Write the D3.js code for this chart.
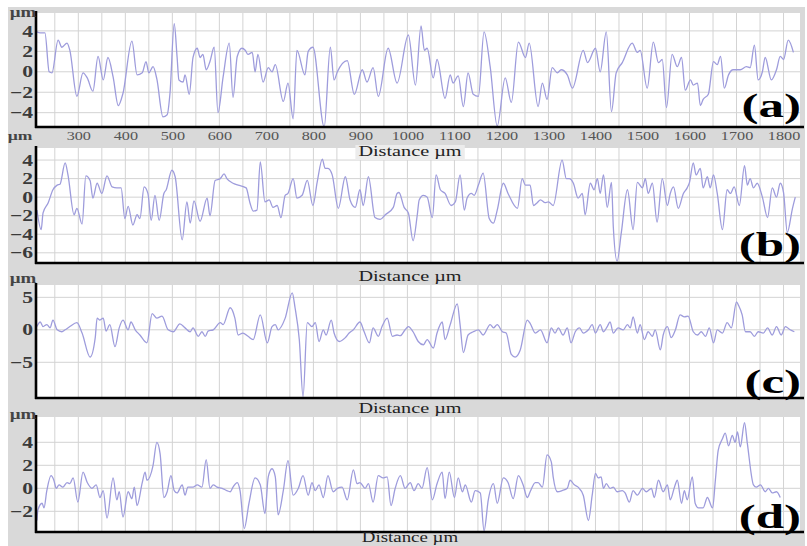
<!DOCTYPE html>
<html>
<head>
<meta charset="utf-8">
<script src="https://cdn.jsdelivr.net/npm/d3@7"></script>
<style>
  body { margin: 0; background: #fff; }
  svg { display: block; }
</style>
</head>
<body>
<svg id="chart" width="807" height="546"></svg>
<script>
// Surface roughness profiles: distance along the scan (µm) vs. height (µm)

const distanceTicks = [300, 400, 500, 600, 700, 800, 900, 1000, 1100, 1200, 1300, 1400, 1500, 1600, 1700, 1800];
const distanceGrid = d3.range(250, 1801, 50);

const heightTicksA = [4, 2, 0, -2, -4];
const heightTicksB = [4, 2, 0, -2, -4, -6];
const heightTicksC = [5, 0, -5];
const heightTicksD = [4, 2, 0, -2];

const panelLabels = ["(a)", "(b)", "(c)", "(d)"];

// [distance µm, height µm]
const profileA = [[212,3.9],[219,3.8],[229,3.8],[238,0],[244,-0.1],[257,3.1],[265,2.4],[276,2.8],[282,2.1],[297,-2.4],[310,-0.1],[319,-0.6],[331,-1.9],[342,1.5],[353,-0.8],[363,1.4],[374,-0.5],[385,-3.3],[395,-2.1],[414,3.0],[425,-0.3],[436,-0.1],[444,1.0],[450,-0.1],[459,0.5],[467,-0.7],[480,-4.4],[489,-4.2],[495,-2.1],[504,4.7],[510,1.5],[514,-0.8],[523,-1.0],[527,-0.3],[536,-2.2],[544,1.4],[553,2.3],[559,1.4],[565,1.7],[572,0.2],[580,1.0],[589,2.4],[597,-4.0],[608,-0.5],[621,2.8],[629,-2.5],[638,1.5],[648,2.3],[655,2.1],[661,1.7],[670,1.9],[676,0],[682,1.7],[693,-1.0],[704,0.4],[712,0],[719,0.7],[736,-2.9],[746,-1.1],[757,-4.6],[765,2.1],[782,-0.3],[789,2.0],[799,2.4],[823,-5.4],[836,2.4],[844,-0.8],[851,0],[872,1.1],[887,-2.2],[904,0.2],[914,-1.0],[927,0.4],[938,-2.4],[959,2.3],[978,-1.1],[1002,3.6],[1017,-1.3],[1029,4.5],[1036,2.1],[1042,2.3],[1055,-0.6],[1063,1.2],[1080,-2.6],[1091,-0.3],[1097,-1.1],[1108,-0.4],[1119,-3.4],[1129,-0.1],[1140,-2.2],[1151,-2.4],[1163,3.9],[1176,0.5],[1191,-5.3],[1208,-0.6],[1221,-3.0],[1236,2.9],[1251,1.4],[1259,2.8],[1278,-3.4],[1287,-1.1],[1297,-2.7],[1308,0.4],[1319,-0.1],[1327,0.2],[1340,-0.3],[1351,-1.6],[1374,2.1],[1383,0.9],[1400,2.3],[1410,0],[1423,3.9],[1434,-3.9],[1444,-0.1],[1457,0.9],[1478,2.8],[1489,1.9],[1495,2.1],[1510,-1.6],[1523,2.9],[1534,0.9],[1542,1.2],[1551,-3.5],[1563,1.7],[1574,0.5],[1583,1.4],[1591,-1.8],[1602,-0.8],[1608,-1.3],[1617,-1.1],[1623,-3.3],[1629,-2.7],[1640,-2.2],[1651,1.0],[1659,0.7],[1666,1.5],[1674,-1.6],[1683,-0.3],[1693,0.2],[1708,0.2],[1721,0.5],[1729,0.4],[1738,2.6],[1746,-0.8],[1755,0],[1761,1.4],[1774,-0.8],[1785,0.2],[1793,1.5],[1800,1.2],[1810,3.1],[1821,1.9]];

const profileB = [[212,-1.4],[221,-3.5],[225,-1.7],[236,-0.6],[246,0.8],[255,1.3],[261,1.4],[272,3.7],[278,2.4],[291,-1.9],[297,-1.2],[308,-2.9],[316,2.3],[325,1.8],[331,-0.1],[340,1.5],[350,0.4],[361,2.3],[372,1.1],[382,1.0],[391,1.0],[399,-2.3],[406,-1.0],[416,-3.0],[425,-1.9],[431,-2.3],[440,1.1],[448,0.4],[455,-2.5],[463,0.2],[472,-2.5],[482,0.4],[487,0.8],[499,2.9],[506,2.2],[521,-4.6],[531,-0.5],[538,-2.8],[546,-0.4],[559,-2.6],[574,-0.1],[580,-2.0],[591,1.8],[602,2.0],[610,2.5],[616,2.0],[629,1.5],[640,1.3],[657,1.0],[665,-0.6],[672,-1.5],[680,-1.4],[687,3.8],[697,-0.5],[706,-0.3],[714,-1.1],[723,-0.9],[731,-2.2],[740,0.2],[746,0.4],[757,2.0],[765,-0.1],[776,0.2],[787,1.8],[799,-0.9],[808,1.6],[819,4.1],[825,3.1],[831,3.1],[840,2.4],[853,-1.2],[868,2.2],[878,-0.3],[889,-1.1],[899,0.8],[906,-0.9],[917,2.2],[931,-2.2],[942,-2.4],[953,-1.9],[970,-1.1],[978,0.4],[982,0.5],[993,-1.1],[1002,-1.7],[1012,-4.7],[1021,-1.9],[1025,-0.3],[1034,0.2],[1042,0],[1053,-2.2],[1061,2.4],[1070,0.8],[1080,0.4],[1093,-0.9],[1102,-0.5],[1112,2.4],[1121,-1.4],[1127,-0.1],[1136,0.4],[1142,0.2],[1151,1.3],[1161,2.6],[1174,-2.3],[1183,-2.8],[1191,-1.4],[1204,1.5],[1214,0.4],[1234,-1.2],[1244,2.0],[1251,1.3],[1261,1.3],[1268,-0.9],[1276,-0.6],[1283,-0.3],[1293,-0.6],[1300,-0.5],[1310,-0.9],[1329,4.0],[1338,2.0],[1344,2.0],[1353,1.5],[1363,-0.1],[1372,0.4],[1378,-1.9],[1389,1.5],[1397,0.8],[1404,2.0],[1410,0.4],[1417,2.4],[1425,-1.1],[1434,1.6],[1438,-3.3],[1446,-6.9],[1455,-3.8],[1468,0.8],[1480,-3.5],[1489,1.6],[1500,1.0],[1506,2.0],[1512,0.4],[1521,1.5],[1531,-2.7],[1542,2.0],[1553,-0.9],[1559,0.4],[1566,1.1],[1576,-1.2],[1587,0.4],[1595,1.0],[1600,1.6],[1608,3.7],[1614,2.4],[1623,3.1],[1629,1.0],[1638,2.2],[1644,1.0],[1651,2.4],[1659,0.4],[1670,-3.5],[1680,0.8],[1687,0.4],[1695,1.1],[1706,-0.9],[1717,3.4],[1723,1.3],[1729,2.0],[1736,1.0],[1744,1.5],[1755,0],[1766,-2.2],[1776,1.0],[1785,0],[1793,1.5],[1800,0.5],[1808,-3.8],[1819,-1.2],[1825,0]];

const profileC = [[212,0.5],[219,1.2],[225,0.5],[233,0.8],[240,0.3],[246,1.5],[255,0],[265,-0.3],[272,0],[282,0.5],[297,1.1],[308,-0.5],[325,-4.2],[336,-1.2],[340,1.8],[346,1.5],[353,1.8],[359,-0.2],[367,0.8],[378,-2.6],[387,0.3],[395,1.5],[406,0],[412,1.2],[421,0],[431,-0.8],[446,-2.0],[457,2.5],[467,1.8],[478,2.1],[491,0],[502,-0.3],[516,0.9],[527,0.3],[538,-0.3],[544,0.3],[555,-1.0],[563,-0.3],[570,-1.0],[576,-0.2],[587,0],[602,1.1],[608,0.8],[623,3.4],[633,1.8],[640,-0.8],[650,-0.5],[661,-1.0],[672,-1.5],[687,2.3],[702,-2.0],[712,0.5],[719,0.8],[725,0],[740,1.8],[755,5.7],[761,3.4],[770,-1.5],[778,-10.3],[787,1.1],[797,0.5],[804,1.1],[812,-1.8],[821,0],[827,-0.8],[838,1.5],[844,-0.5],[855,-1.8],[868,-1.2],[876,-0.5],[885,0],[899,1.2],[908,-0.3],[919,-2.0],[927,0.3],[938,-1.0],[946,0.5],[957,1.8],[968,-1.0],[978,-0.8],[985,-0.9],[995,0],[1002,0.5],[1012,-0.3],[1023,-1.8],[1034,-2.3],[1042,-1.5],[1055,-2.8],[1063,-0.5],[1074,1.2],[1080,-1.5],[1091,0.8],[1106,4.0],[1112,0.8],[1119,-3.5],[1129,-0.8],[1140,-0.3],[1151,0],[1161,-0.8],[1176,0.8],[1183,0.3],[1191,0.8],[1202,-0.3],[1210,-0.5],[1221,-3.8],[1229,-4.2],[1240,-3.1],[1255,1.5],[1261,1.0],[1272,-0.5],[1283,0],[1297,-2.0],[1306,0.3],[1314,-0.5],[1321,0.3],[1331,-0.8],[1340,0.3],[1348,-2.0],[1357,-0.3],[1366,0.3],[1374,-0.5],[1385,0],[1393,0.8],[1400,-0.5],[1410,0.8],[1417,-0.3],[1425,0.5],[1431,1.2],[1438,-0.5],[1448,0.3],[1459,0],[1468,0.8],[1474,0.3],[1480,2.0],[1489,-0.5],[1495,0.8],[1504,-1.5],[1512,-0.3],[1521,-1.0],[1527,0],[1538,-3.1],[1544,-0.8],[1553,0.5],[1561,-1.2],[1570,0],[1580,2.3],[1589,2.0],[1597,2.1],[1608,-0.3],[1617,-0.8],[1625,-0.3],[1634,-1.0],[1642,0.3],[1651,-2.0],[1659,0],[1670,-0.5],[1680,1.1],[1689,0.3],[1700,4.3],[1704,3.8],[1712,2.3],[1719,-0.3],[1729,-0.3],[1738,-1.0],[1746,-0.3],[1757,-0.5],[1766,0.3],[1776,-0.8],[1785,0.5],[1795,-0.8],[1804,0.5],[1814,0],[1823,-0.3]];

const profileD = [[212,-2.8],[214,-1.9],[223,-1.3],[227,-1.7],[233,-0.2],[242,1.1],[248,0.7],[253,0],[259,0.3],[267,0.1],[276,0.5],[282,0.4],[289,0.9],[299,-1.2],[310,1.4],[319,0.5],[329,0],[338,0.3],[346,-0.8],[353,-0.2],[361,-2.6],[374,0.9],[382,-1.0],[387,-0.3],[395,-2.5],[406,-0.3],[414,-0.9],[419,0.1],[425,-1.5],[436,0.5],[442,1.4],[446,0.7],[459,2.0],[467,4.0],[474,3.0],[482,-0.8],[489,-0.3],[497,1.1],[504,-0.2],[510,-0.4],[521,0.3],[527,-0.6],[533,0.1],[544,0.1],[553,0.3],[563,0.1],[572,2.5],[580,0],[587,0.3],[595,0.1],[606,0],[616,-0.2],[623,-0.3],[629,0.1],[638,0.5],[644,-0.2],[653,-3.5],[663,-1.3],[676,0.9],[687,0.3],[697,-2.2],[704,1.0],[712,1.7],[719,1.0],[725,-2.3],[736,-0.2],[746,2.4],[757,-0.6],[768,0],[778,1.1],[789,-0.6],[797,0.5],[804,-0.2],[812,0.3],[821,-0.8],[831,1.1],[842,-0.3],[851,0],[861,0.1],[872,-1.0],[885,1.6],[893,0.4],[899,0.5],[910,0],[917,0.4],[927,-1.2],[938,1.1],[948,0.9],[957,1.0],[965,-1.5],[974,0],[985,1.1],[995,0],[1006,0.5],[1014,-0.2],[1023,0.4],[1031,0],[1042,1.8],[1053,-1.0],[1063,0.4],[1074,1.4],[1080,-0.9],[1089,1.4],[1100,-0.8],[1108,0.9],[1117,-0.3],[1123,0.3],[1136,-1.2],[1144,-0.2],[1155,-0.4],[1163,-3.7],[1172,-1.0],[1183,0.4],[1191,-1.3],[1204,0.9],[1214,0.5],[1225,-0.9],[1236,1.1],[1246,0.3],[1255,-0.8],[1261,-0.3],[1272,0.5],[1278,0.5],[1287,0.1],[1297,2.9],[1306,2.3],[1310,1.0],[1319,-0.3],[1329,-0.2],[1340,0],[1346,0.7],[1355,0.3],[1363,0.1],[1374,-0.6],[1385,-2.8],[1393,-0.6],[1400,1.3],[1406,0.9],[1412,1.0],[1417,0],[1423,0.4],[1431,0],[1438,0.1],[1446,-0.3],[1457,-0.2],[1463,-0.4],[1472,-1.2],[1480,-0.2],[1489,-0.6],[1500,0],[1508,-0.3],[1519,0],[1525,-0.8],[1534,0.7],[1544,-0.3],[1553,0.3],[1559,-1.0],[1568,0.1],[1574,0.7],[1583,-1.3],[1589,-0.2],[1595,-1.0],[1606,1.0],[1612,-1.3],[1619,-1.7],[1629,-1.7],[1638,-0.8],[1649,-1.7],[1655,0.7],[1661,3.3],[1670,4.3],[1676,4.8],[1683,3.7],[1691,4.6],[1697,4.0],[1702,4.9],[1708,3.6],[1717,5.7],[1723,3.9],[1736,0.3],[1742,0.1],[1751,0.3],[1761,-0.3],[1768,0],[1776,-0.4],[1785,-0.3],[1793,-0.8]];

// ---- layout ----
const plotLeft = 36, plotRight = 800;
const SERIF = "'Liberation Serif', 'Times New Roman', serif";
const STRETCH = 1.35;        // glyphs are drawn a little wider than tall
const LABEL_STRETCH = 1.5;

const panels = [
  { data: profileA, ticks: heightTicksA, domain: [-5.4, 5.75], top: 13,  bottom: 127, frameTop: 7,   frameBottom: 146,
    unitY: 17, distY: 156, distSize: 15, showDistanceTicks: true, label: panelLabels[0], labelY: 117 },
  { data: profileB, ticks: heightTicksB, domain: [-7.1, 5.3],  top: 148, bottom: 263, frameTop: 146, frameBottom: 286,
    unitY: null, distY: 281, distSize: 15, showDistanceTicks: false, label: panelLabels[1], labelY: 256 },
  { data: profileC, ticks: heightTicksC, domain: [-10.5, 6.9], top: 285, bottom: 398, frameTop: 283, frameBottom: 416,
    unitY: 283, distY: 413, distSize: 15, showDistanceTicks: false, label: panelLabels[2], labelY: 393 },
  { data: profileD, ticks: heightTicksD, domain: [-3.8, 6.2],  top: 417, bottom: 532, frameTop: 412, frameBottom: 546,
    unitY: 419, distY: 542, distSize: 14, showDistanceTicks: false, label: panelLabels[3], labelY: 528 }
];

const svg = d3.select("#chart");
const x = d3.scaleLinear().domain([210, 1835]).range([plotLeft, plotRight]);

function placed(sel, px, py, sx) {
  return sel.attr("transform", `translate(${px},${py}) scale(${sx || STRETCH},1)`);
}

// grey frames behind each panel
panels.forEach(p => {
  svg.append("rect")
    .attr("x", 8).attr("y", p.frameTop)
    .attr("width", 797).attr("height", p.frameBottom - p.frameTop)
    .attr("fill", "#d9d9d9");
});

panels.forEach((p, i) => {
  const y = d3.scaleLinear().domain(p.domain).range([p.bottom, p.top]);
  const g = svg.append("g");

  // white plotting area
  g.append("rect")
    .attr("x", plotLeft).attr("y", p.top)
    .attr("width", plotRight - plotLeft).attr("height", p.bottom - p.top)
    .attr("fill", "#fff");

  // grid
  g.append("g").selectAll("line").data(distanceGrid).join("line")
    .attr("x1", d => x(d)).attr("x2", d => x(d))
    .attr("y1", p.top).attr("y2", p.bottom)
    .attr("stroke", "#d3d3d3").attr("stroke-width", 1);
  g.append("g").selectAll("line").data(p.ticks).join("line")
    .attr("x1", plotLeft).attr("x2", plotRight)
    .attr("y1", d => y(d)).attr("y2", d => y(d))
    .attr("stroke", "#d3d3d3").attr("stroke-width", 1);

  // profile trace
  const clipId = "clip" + i;
  g.append("clipPath").attr("id", clipId).append("rect")
    .attr("x", plotLeft).attr("y", p.top - 1)
    .attr("width", plotRight - plotLeft).attr("height", p.bottom - p.top + 2);
  g.append("path")
    .datum(p.data)
    .attr("clip-path", `url(#${clipId})`)
    .attr("fill", "none")
    .attr("stroke", "#9e9cdc")
    .attr("stroke-width", 1.3)
    .attr("stroke-linejoin", "round")
    .attr("d", d3.line().x(d => x(d[0])).y(d => y(d[1])).curve(d3.curveMonotoneX));

  // height axis labels
  const yAxis = g.append("g")
    .attr("transform", `translate(${plotLeft},0)`)
    .call(d3.axisLeft(y).tickValues(p.ticks).tickSize(0).tickPadding(3).tickFormat(d3.format("d")));
  yAxis.select(".domain").remove();
  yAxis.selectAll("text")
    .attr("font-family", SERIF).attr("font-size", 16).attr("font-weight", "bold")
    .attr("fill", "#3a3a3a")
    .attr("transform", `scale(${STRETCH},1)`)
    .attr("x", -3 / STRETCH);

  // distance axis labels (first panel only)
  const xAxis = g.append("g")
    .attr("transform", `translate(0,${p.bottom})`)
    .call(d3.axisBottom(x).tickValues(p.showDistanceTicks ? distanceTicks : [])
      .tickSize(0).tickPadding(4).tickFormat(d3.format("d")));
  xAxis.select(".domain").remove();
  xAxis.selectAll("text")
    .attr("font-family", SERIF).attr("font-size", 12)
    .attr("fill", "#555")
    .attr("transform", `scale(${STRETCH},1)`);

  // black axis lines
  g.append("line")
    .attr("x1", plotLeft).attr("x2", plotLeft)
    .attr("y1", p.top - 2).attr("y2", p.bottom + 1)
    .attr("stroke", "#000").attr("stroke-width", 2.6);
  g.append("line")
    .attr("x1", plotLeft - 1).attr("x2", plotRight + 4)
    .attr("y1", p.bottom).attr("y2", p.bottom)
    .attr("stroke", "#000").attr("stroke-width", 2.6);
});

// text layer on top of everything
panels.forEach(p => {
  if (p.unitY !== null) {
    placed(svg.append("text"), 23, p.unitY)
      .attr("text-anchor", "middle")
      .attr("font-family", SERIF).attr("font-size", 14).attr("font-weight", "bold")
      .attr("fill", "#444").text("µm");
  }

  const dist = placed(svg.append("text"), 410, p.distY)
    .attr("text-anchor", "middle")
    .attr("font-family", SERIF).attr("font-size", p.distSize)
    .attr("fill", "#222").text("Distance µm");
  if (p.showDistanceTicks) {
    const bb = dist.node().getBBox();
    svg.insert("rect", () => dist.node())
      .attr("x", 410 + bb.x * STRETCH - 3).attr("y", p.distY - 11)
      .attr("width", bb.width * STRETCH + 6).attr("height", 15)
      .attr("fill", "#ececec");
  }

  placed(svg.append("text"), 801, p.labelY, LABEL_STRETCH)
    .attr("text-anchor", "end")
    .attr("font-family", SERIF).attr("font-size", 34).attr("font-weight", "bold")
    .attr("fill", "#000").text(p.label);
});

// unit of the distance scale, next to the first tick row
placed(svg.append("text"), 20, 140)
  .attr("text-anchor", "middle")
  .attr("font-family", SERIF).attr("font-size", 13).attr("font-weight", "bold")
  .attr("fill", "#444").text("µm");
</script>
</body>
</html>
